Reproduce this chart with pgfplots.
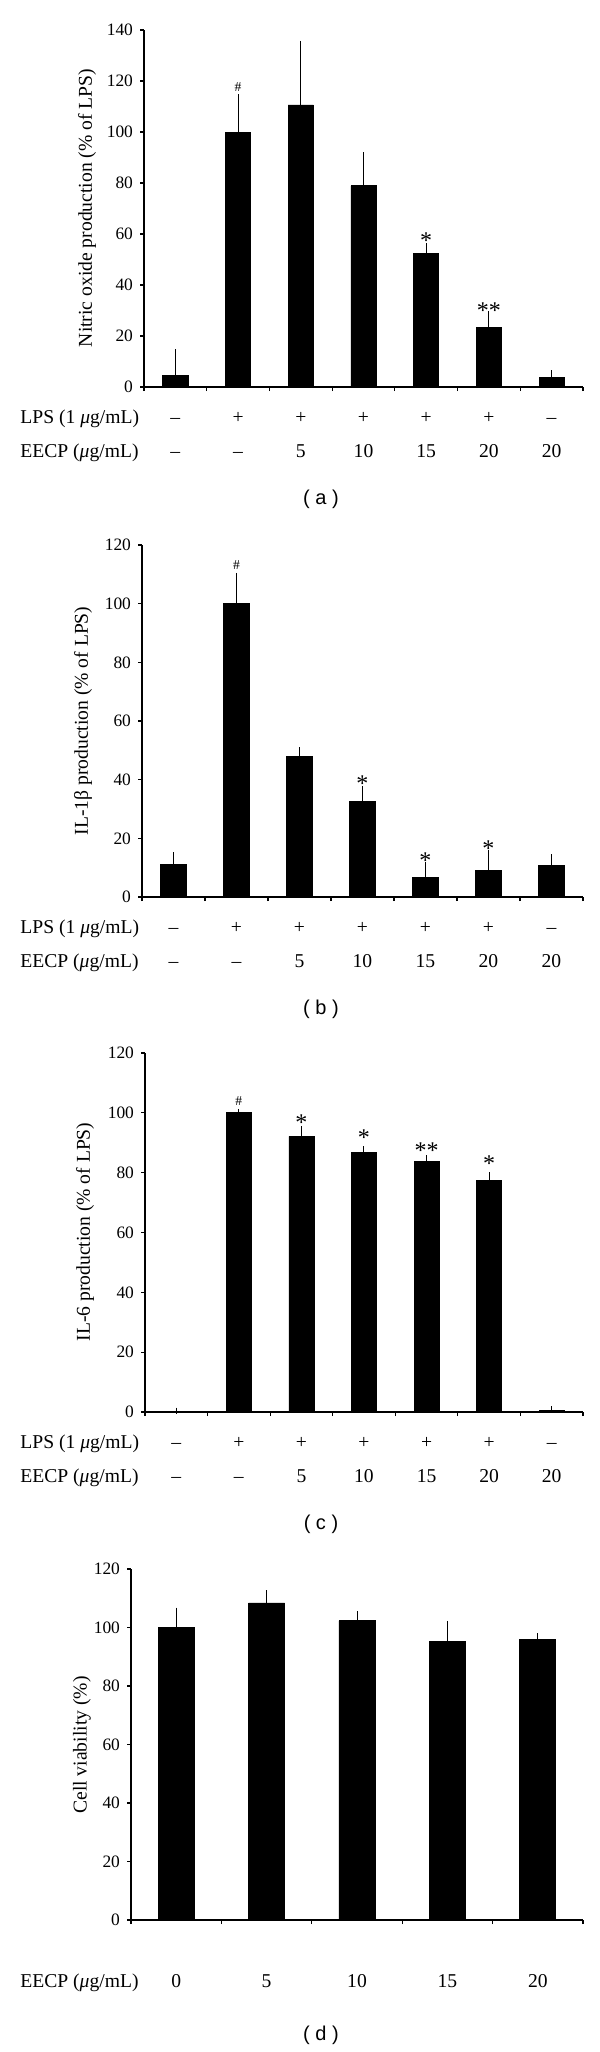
\documentclass[border=0pt]{standalone}
\usepackage{fontspec}
\setmainfont{Liberation Serif}
\newfontfamily\labsans{Liberation Sans}
\usepackage{pgfplots}
\pgfplotsset{compat=1.18}
\pgfplotsset{
  mybar/.style={
    scale only axis, axis lines=left, axis line style={-, line width=0.6pt},
    enlargelimits=false, ymin=0,
    xticklabels={}, xtick align=outside, ytick align=outside,
    major tick length=2pt, tick style={line width=0.6pt, black},
    /pgf/number format/assume math mode=true,
    tick label style={font=\fontsize{8.7}{10}\selectfont},
    clip=false, anchor=south west,
  },
  mybars/.style={ybar, bar width=0.4, fill=black, draw=black, line width=0.4pt,
    error bars/.cd, y dir=plus, y explicit,
    error bar style={line width=0.5pt, black},
    error mark options={line width=0.5pt, mark size=1.6pt, black}},
}
\newcommand{\lab}{\fontsize{9.8}{11}\selectfont}
\newcommand{\astf}{\fontsize{12}{12}\selectfont}
\newcommand{\hsh}{\fontsize{6.8}{7}\selectfont}
\newcommand{\catrow}[2]{% #1 = yshift, #2 = list i/s
  \foreach \i/\s in {#2}{%
    \edef\tmp{\noexpand\node[anchor=base, yshift=#1, font=\noexpand\lab] at (axis cs:\i,0) {\s};}\tmp}}
\begin{document}
\begin{tikzpicture}
\path (0,0) rectangle (300pt,-1026pt);
% ---------- (a)
\begin{axis}[mybar, at={(72pt,-193.5pt)},
  width=219.5pt, height=178.5pt,
  xmin=-0.5, xmax=6.5, ymax=140, ytick={0,20,...,140},
  xtick={-0.5,0.5,...,6.5}]
\addplot[mybars] coordinates {
 (0,4.7) +- (0,8.9)
 (1,100) +- (0,13.6)
 (2,110.6) +- (0,23.9)
 (3,78.9) +- (0,11.9)
 (4,52.3) +- (0,2.9)
 (5,23.2) +- (0,5.3)
 (6,3.8) +- (0,1.6)};
\node[font=\hsh] at (axis cs:1,117.8) {\#};
\node[yshift=-2pt, font=\astf] at (axis cs:4,58.9) {*};
\node[yshift=-2pt, font=\astf] at (axis cs:5,31.7) {**};
\catrow{-18pt}{0/–,1/+,2/+,3/+,4/+,5/+,6/–}
\catrow{-35pt}{0/–,1/–,2/5,3/10,4/15,5/20,6/20}
\end{axis}
\node[anchor=base west, font=\lab, inner sep=0pt] at (10pt,-211.5pt) {LPS (1 \textit{μ}g/mL)};
\node[anchor=base west, font=\lab, inner sep=0pt] at (10pt,-228.5pt) {EECP (\textit{μ}g/mL)};
\node[rotate=90, font=\lab] at (43.5pt,-104pt) {Nitric oxide production (\% of LPS)};
\node[font=\labsans\fontsize{10}{12}\selectfont] at (160.5pt,-249.5pt) {( a )};
% ---------- (b)
\begin{axis}[mybar, at={(71pt,-448.5pt)},
  width=220.5pt, height=176pt,
  xmin=-0.5, xmax=6.5, ymax=120, ytick={0,20,...,120},
  xtick={-0.5,0.5,...,6.5}]
\addplot[mybars] coordinates {
 (0,11.0) +- (0,3.1)
 (1,100) +- (0,9.4)
 (2,47.9) +- (0,2.1)
 (3,32.6) +- (0,4.2)
 (4,6.7) +- (0,4.0)
 (5,9.0) +- (0,6.0)
 (6,10.7) +- (0,2.8)};
\node[font=\hsh] at (axis cs:1,113.2) {\#};
\node[yshift=-2pt, font=\astf] at (axis cs:3,40) {*};
\node[yshift=-2pt, font=\astf] at (axis cs:4,13.9) {*};
\node[yshift=-2pt, font=\astf] at (axis cs:5,17.8) {*};
\catrow{-18pt}{0/–,1/+,2/+,3/+,4/+,5/+,6/–}
\catrow{-35pt}{0/–,1/–,2/5,3/10,4/15,5/20,6/20}
\end{axis}
\node[anchor=base west, font=\lab, inner sep=0pt] at (10pt,-466.5pt) {LPS (1 \textit{μ}g/mL)};
\node[anchor=base west, font=\lab, inner sep=0pt] at (10pt,-483.5pt) {EECP (\textit{μ}g/mL)};
\node[rotate=90, font=\lab] at (41.5pt,-360.5pt) {IL-1β production (\% of LPS)};
\node[font=\labsans\fontsize{10}{12}\selectfont] at (160.5pt,-504.5pt) {( b )};
% ---------- (c)
\begin{axis}[mybar, at={(72.5pt,-706pt)},
  width=219pt, height=179.5pt,
  xmin=-0.5, xmax=6.5, ymax=120, ytick={0,20,...,120},
  xtick={-0.5,0.5,...,6.5}]
\addplot[mybars] coordinates {
 (0,0.3) +- (0,0.1)
 (1,100) +- (0,0.3)
 (2,92.1) +- (0,2.3)
 (3,86.8) +- (0,0.9)
 (4,83.9) +- (0,0.9)
 (5,77.4) +- (0,1.6)
 (6,0.6) +- (0,0.2)};
\node[font=\hsh] at (axis cs:1,103.8) {\#};
\node[yshift=-2pt, font=\astf] at (axis cs:2,97.9) {*};
\node[yshift=-2pt, font=\astf] at (axis cs:3,93.0) {*};
\node[yshift=-2pt, font=\astf] at (axis cs:4,88.6) {**};
\node[yshift=-2pt, font=\astf] at (axis cs:5,84.3) {*};
\catrow{-18pt}{0/–,1/+,2/+,3/+,4/+,5/+,6/–}
\catrow{-35pt}{0/–,1/–,2/5,3/10,4/15,5/20,6/20}
\end{axis}
\node[anchor=base west, font=\lab, inner sep=0pt] at (10pt,-724pt) {LPS (1 \textit{μ}g/mL)};
\node[anchor=base west, font=\lab, inner sep=0pt] at (10pt,-741pt) {EECP (\textit{μ}g/mL)};
\node[rotate=90, font=\lab] at (42.5pt,-616pt) {IL-6 production (\% of LPS)};
\node[font=\labsans\fontsize{10}{12}\selectfont] at (160.5pt,-762pt) {( c )};
% ---------- (d)
\begin{axis}[mybar, at={(65.5pt,-960pt)},
  width=226pt, height=175.5pt,
  xmin=-0.5, xmax=4.5, ymax=120, ytick={0,20,...,120},
  xtick={-0.5,0.5,...,4.5}]
\addplot[mybars] coordinates {
 (0,100) +- (0,5.7)
 (1,108.4) +- (0,3.2)
 (2,102.3) +- (0,2.1)
 (3,95.2) +- (0,6.0)
 (4,95.8) +- (0,1.2)};
\catrow{-33.5pt}{0/0,1/5,2/10,3/15,4/20}
\end{axis}
\node[anchor=base west, font=\lab, inner sep=0pt] at (10pt,-993.5pt) {EECP (\textit{μ}g/mL)};
\node[rotate=90, font=\lab] at (41pt,-872.5pt) {Cell viability (\%)};
\node[font=\labsans\fontsize{10}{12}\selectfont] at (160.5pt,-1017.5pt) {( d )};
\end{tikzpicture}
\end{document}
